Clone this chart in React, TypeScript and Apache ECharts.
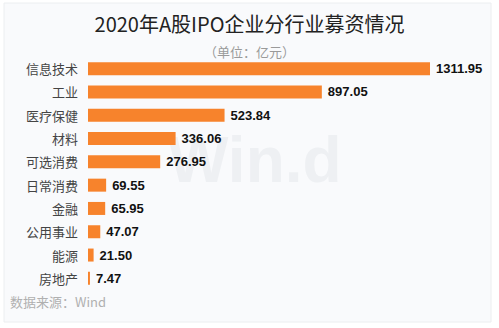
import React, { useEffect, useRef } from "react";
import * as echarts from "echarts";

const categories = ["信息技术", "工业", "医疗保健", "材料", "可选消费", "日常消费", "金融", "公用事业", "能源", "房地产"];
const values = [1311.95, 897.05, 523.84, 336.06, 276.95, 69.55, 65.95, 47.07, 21.5, 7.47];
const titleText = "2020年A股IPO企业分行业募资情况";
const subtitleText = "（单位：亿元）";
const sourceText = "数据来源：Wind";

export default function App() {
  const ref = useRef<HTMLDivElement>(null);
  useEffect(() => {
    if (!ref.current) return;
    const chart = echarts.init(ref.current, null, { renderer: "svg" });
    const cjk = "'Noto Sans CJK SC', 'Noto Sans', sans-serif";
    chart.setOption({
      animation: false,
      backgroundColor: "#ffffff",
      graphic: [
        { type: "rect", z: -10, shape: { x: 4, y: 3, width: 487, height: 319 }, style: { fill: "#f9fafc", stroke: "#eceef0", lineWidth: 1 } },
        { type: "text", z: -5, left: 168, top: 128, style: { text: "Win.d", font: "bold 64px 'Liberation Sans', Arial, sans-serif", fill: "#eef0f3" } },
        { type: "text", left: 10, top: 295, style: { text: sourceText, font: `13px ${cjk}`, fill: "#b0b0b0" } },
      ],
      title: [
        { text: titleText, left: "center", top: 8, textStyle: { fontSize: 20, fontWeight: "normal", color: "#222", fontFamily: cjk } },
        { text: subtitleText, left: "center", top: 40, textStyle: { fontSize: 13, fontWeight: "normal", color: "#9a9a9a", fontFamily: cjk } },
      ],
      grid: { left: 88, right: 69, top: 57, height: 233, containLabel: false },
      xAxis: { type: "value", min: 0, max: 1311.95, show: false },
      yAxis: {
        type: "category",
        data: categories,
        inverse: true,
        axisLine: { show: false },
        axisTick: { show: false },
        axisLabel: { color: "#444", fontSize: 13, fontFamily: cjk, margin: 10 },
      },
      series: [
        {
          type: "bar",
          data: values,
          barWidth: 13,
          itemStyle: { color: "#f7832c" },
          label: {
            show: true,
            position: "right",
            distance: 6,
            color: "#111",
            fontSize: 13,
            fontWeight: "bold",
            fontFamily: "'Liberation Sans', Arial, sans-serif",
            formatter: (p: any) => Number(p.value).toFixed(2),
          },
        },
      ],
    });
    return () => chart.dispose();
  }, []);
  return <div ref={ref} style={{ position: "fixed", left: 0, top: 0, width: 499, height: 328 }} />;
}
